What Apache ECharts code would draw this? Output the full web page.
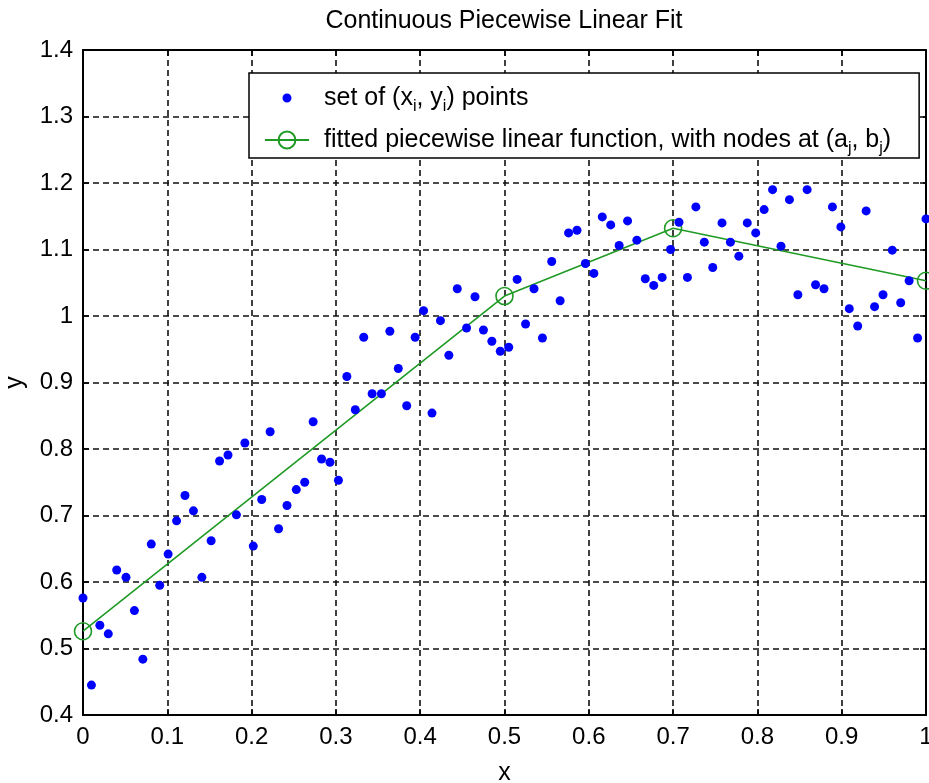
<!DOCTYPE html>
<html>
<head>
<meta charset="utf-8">
<title>Continuous Piecewise Linear Fit</title>
<script src="https://cdn.jsdelivr.net/npm/echarts@6/dist/echarts.min.js"></script>
<style>
  html, body { margin: 0; padding: 0; background: #fff; }
  #chart { width: 929px; height: 783px; }
</style>
</head>
<body>
<div id="chart"></div>
<script>
// x positions of the data points
var xPts = [0, .010, .020, .030, .040, .051, .061, .071, .081, .091,
  .101, .111, .121, .131, .141, .152, .162, .172, .182, .192,
  .202, .212, .222, .232, .242, .253, .263, .273, .283, .293,
  .303, .313, .323, .333, .343, .354, .364, .374, .384, .394,
  .404, .414, .424, .434, .444, .455, .465, .475, .485, .495,
  .505, .515, .525, .535, .545, .556, .566, .576, .586, .596,
  .606, .616, .626, .636, .646, .657, .667, .677, .687, .697,
  .707, .717, .727, .737, .747, .758, .768, .778, .788, .798,
  .808, .818, .828, .838, .848, .859, .869, .879, .889, .899,
  .909, .919, .929, .939, .949, .960, .970, .980, .990, 1];

// y values of the data points
var yPts = [0.576, 0.445, 0.535, 0.522, 0.618, 0.607, 0.557, 0.484, 0.657, 0.595,
  0.642, 0.692, 0.730, 0.707, 0.607, 0.662, 0.782, 0.791, 0.701, 0.809,
  0.654, 0.724, 0.826, 0.680, 0.715, 0.739, 0.750, 0.841, 0.785, 0.780,
  0.753, 0.909, 0.859, 0.968, 0.883, 0.883, 0.977, 0.921, 0.865, 0.968,
  1.008, 0.854, 0.993, 0.941, 1.041, 0.982, 1.029, 0.979, 0.962, 0.947,
  0.953, 1.055, 0.988, 1.041, 0.967, 1.082, 1.023, 1.125, 1.129, 1.079,
  1.064, 1.149, 1.137, 1.106, 1.143, 1.114, 1.056, 1.046, 1.058, 1.100,
  1.141, 1.058, 1.164, 1.111, 1.073, 1.140, 1.111, 1.090, 1.140, 1.125,
  1.160, 1.190, 1.105, 1.175, 1.032, 1.190, 1.047, 1.041, 1.164, 1.134,
  1.011, 0.985, 1.158, 1.014, 1.032, 1.099, 1.020, 1.053, 0.967, 1.146];

// nodes of the fitted piecewise linear function (a_j, b_j)
var nodeA = [0, 0.5, 0.7, 1];
var nodeB = [0.526, 1.030, 1.132, 1.053];

var xTicks = [0, 0.1, 0.2, 0.3, 0.4, 0.5, 0.6, 0.7, 0.8, 0.9, 1];
var yTicks = [0.4, 0.5, 0.6, 0.7, 0.8, 0.9, 1, 1.1, 1.2, 1.3, 1.4];

var pointsName = 'points';
var fitName = 'fit';
var green = '#1f9a24';
var font = '"Liberation Sans", Arial, sans-serif';

var pointData = xPts.map(function (x, i) { return [x, yPts[i]]; });
var nodeData = nodeA.map(function (a, i) { return [a, nodeB[i]]; });

var chart = echarts.init(document.getElementById('chart'));

function mainAxis(pos, ticks) {
  return {
    type: 'value',
    position: pos,
    min: ticks[0],
    max: ticks[ticks.length - 1],
    interval: 0.1,
    axisLine: { show: true, onZero: false, lineStyle: { color: '#000', width: 2 } },
    axisTick: { show: true, inside: true, length: 6, lineStyle: { color: '#000', width: 1.5 } },
    axisLabel: { color: '#000', fontSize: 24, fontFamily: font, margin: 10 },
    splitLine: { show: true, lineStyle: { color: '#111', width: 1.6, type: [6, 4] } }
  };
}

// ticks only, for the top and right borders of the box
function mirrorAxis(pos, ticks) {
  return {
    type: 'value',
    position: pos,
    min: ticks[0],
    max: ticks[ticks.length - 1],
    interval: 0.1,
    axisLine: { show: true, onZero: false, lineStyle: { color: '#000', width: 2 } },
    axisTick: { show: true, inside: true, length: 6, lineStyle: { color: '#000', width: 1.5 } },
    axisLabel: { show: false },
    splitLine: { show: false }
  };
}

var xMain = mainAxis('bottom', xTicks);
xMain.name = 'x';
xMain.nameLocation = 'middle';
xMain.nameGap = 46;
xMain.nameTextStyle = { color: '#000', fontSize: 25, fontFamily: font };

var yMain = mainAxis('left', yTicks);
yMain.name = 'y';
yMain.nameLocation = 'middle';
yMain.nameGap = 55;
yMain.nameRotate = 90;
yMain.nameTextStyle = { color: '#000', fontSize: 25, fontFamily: font };

var option = {
  backgroundColor: '#fff',
  animation: false,
  title: {
    text: 'Continuous Piecewise Linear Fit',
    left: 504,
    textAlign: 'center',
    top: 9,
    padding: 0,
    textStyle: { color: '#000', fontSize: 25, fontWeight: 'normal', fontFamily: font }
  },
  grid: { left: 83, right: 3, top: 50, bottom: 68, outerBoundsMode: 'none' },
  xAxis: [xMain, mirrorAxis('top', xTicks)],
  yAxis: [yMain, mirrorAxis('right', yTicks)],
  legend: {
    orient: 'vertical',
    left: 249,
    top: 73,
    padding: [7, 28, 0, 15],
    itemGap: 6,
    itemWidth: 44,
    itemHeight: 21,
    backgroundColor: '#fff',
    borderColor: '#000',
    borderWidth: 1.5,
    borderRadius: 0,
    data: [
      { name: pointsName, icon: 'circle', itemStyle: { color: '#0000ff', borderColor: '#fff', borderWidth: 12 } },
      { name: fitName }
    ],
    formatter: function (name) {
      if (name === pointsName) {
        return '{n|set of (x}{s|i}{n|, y}{s|i}{n|) points}';
      }
      return '{n|fitted piecewise linear function, with nodes at (a}{s|j}{n|, b}{s|j}{n|)}';
    },
    textStyle: {
      color: '#000',
      fontFamily: font,
      fontSize: 25,
      lineHeight: 36,
      padding: [0, 0, 0, 10],
      rich: {
        n: { fontSize: 25, fontFamily: font, color: '#000', lineHeight: 36 },
        // subscript: extra top padding pushes the small glyph below the baseline
        s: { fontSize: 16, fontFamily: font, color: '#000', lineHeight: 16, padding: [18, 0, 0, 0] }
      }
    }
  },
  series: [
    {
      name: fitName,
      type: 'line',
      data: nodeData,
      symbol: 'circle',
      symbolSize: 17,
      showAllSymbol: true,
      lineStyle: { color: green, width: 1.6 },
      itemStyle: { color: 'rgba(0,0,0,0)', borderColor: green, borderWidth: 1.6 },
      z: 3
    },
    {
      name: pointsName,
      type: 'scatter',
      data: pointData,
      symbol: 'circle',
      symbolSize: 9,
      itemStyle: { color: '#0000ff', opacity: 1 },
      z: 4
    }
  ]
};

chart.setOption(option);
</script>
</body>
</html>
